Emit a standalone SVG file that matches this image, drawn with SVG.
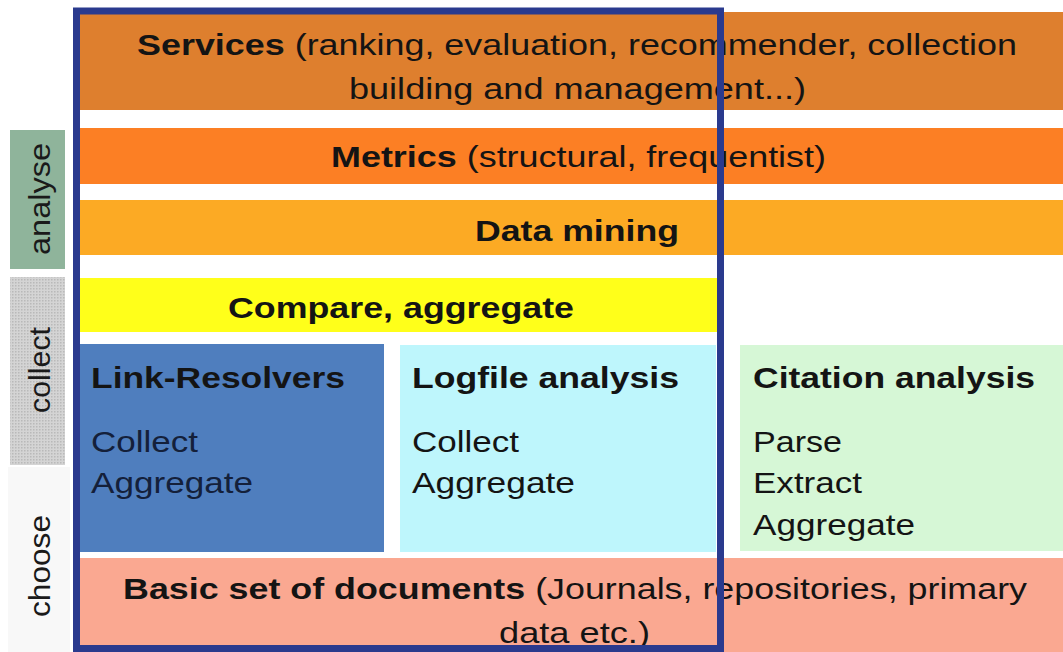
<svg xmlns="http://www.w3.org/2000/svg" width="1063" height="652" viewBox="0 0 1063 652">
<style>
text{font-family:"Liberation Sans",Arial,sans-serif;font-size:30px;fill:#141414}
.b{font-weight:bold}
.lab{font-size:30px;fill:#1a1a1a;text-anchor:middle}
.dk{fill:#14203a}
</style>
<defs>
<pattern id="dots" width="3" height="3" patternUnits="userSpaceOnUse">
<rect width="3" height="3" fill="#d4d4d4"/>
<rect width="1.5" height="1.5" fill="#b9b9b9"/>
</pattern>
</defs>
<rect width="1063" height="652" fill="#ffffff"/>
<g id="label-analyse">
<rect x="10" y="130" width="55" height="139" fill="#8fb49b"/>
<text class="lab" transform="translate(50,199) rotate(-90)" textLength="112" lengthAdjust="spacingAndGlyphs">analyse</text>
</g>
<g id="label-collect">
<rect x="10" y="277" width="55" height="188" fill="url(#dots)"/>
<text class="lab" transform="translate(50,370) rotate(-90)" textLength="86" lengthAdjust="spacingAndGlyphs">collect</text>
</g>
<g id="label-choose">
<rect x="8" y="467" width="62" height="185" fill="#f8f8f8"/>
<text class="lab" transform="translate(50,566) rotate(-90)" textLength="102" lengthAdjust="spacingAndGlyphs">choose</text>
</g>
<g id="services">
<rect x="80" y="12" width="983" height="98" fill="#de7f2e"/>
<text x="137" y="55" textLength="880" lengthAdjust="spacingAndGlyphs"><tspan class="b">Services</tspan> (ranking, evaluation, recommender, collection</text>
<text x="349" y="99" textLength="457" lengthAdjust="spacingAndGlyphs">building and management...)</text>
</g>
<g id="metrics">
<rect x="80" y="128" width="983" height="56" fill="#fc7f24"/>
<text x="331" y="167" textLength="495" lengthAdjust="spacingAndGlyphs"><tspan class="b">Metrics</tspan> (structural, frequentist)</text>
</g>
<g id="data-mining">
<rect x="80" y="200" width="983" height="55" fill="#fcaa24"/>
<text class="b" x="475" y="241" textLength="204" lengthAdjust="spacingAndGlyphs">Data mining</text>
</g>
<g id="compare">
<rect x="80" y="278" width="637" height="54" fill="#ffff1a"/>
<text class="b" x="228" y="318" textLength="346" lengthAdjust="spacingAndGlyphs">Compare, aggregate</text>
</g>
<g id="link-resolvers">
<rect x="80" y="344" width="304" height="208" fill="#4f7ebe"/>
<text class="b" x="91" y="388" textLength="254" lengthAdjust="spacingAndGlyphs">Link-Resolvers</text>
<text class="dk" x="91" y="452" textLength="107" lengthAdjust="spacingAndGlyphs">Collect</text>
<text class="dk" x="91" y="493" textLength="162" lengthAdjust="spacingAndGlyphs">Aggregate</text>
</g>
<g id="logfile">
<rect x="400" y="345" width="316" height="207" fill="#bef6fc"/>
<text class="b" x="412" y="388" textLength="267" lengthAdjust="spacingAndGlyphs">Logfile analysis</text>
<text x="412" y="452" textLength="107" lengthAdjust="spacingAndGlyphs">Collect</text>
<text x="412" y="493" textLength="163" lengthAdjust="spacingAndGlyphs">Aggregate</text>
</g>
<g id="citation">
<rect x="740" y="345" width="323" height="206" fill="#d6f7d6"/>
<text class="b" x="753" y="388" textLength="282" lengthAdjust="spacingAndGlyphs">Citation analysis</text>
<text x="753" y="452" textLength="89" lengthAdjust="spacingAndGlyphs">Parse</text>
<text x="753" y="493" textLength="109" lengthAdjust="spacingAndGlyphs">Extract</text>
<text x="753" y="535" textLength="162" lengthAdjust="spacingAndGlyphs">Aggregate</text>
</g>
<g id="basic-set">
<rect x="80" y="558" width="983" height="94" fill="#faa891"/>
<text x="123" y="599" textLength="904" lengthAdjust="spacingAndGlyphs"><tspan class="b">Basic set of documents</tspan> (Journals, repositories, primary</text>
<text x="499" y="643" textLength="151" lengthAdjust="spacingAndGlyphs">data etc.)</text>
</g>
<g id="connectors"></g>
<g id="frame">
<rect x="76.5" y="11" width="644" height="637.5" fill="none" stroke="#2a3a8e" stroke-width="7"/>
</g>
</svg>
